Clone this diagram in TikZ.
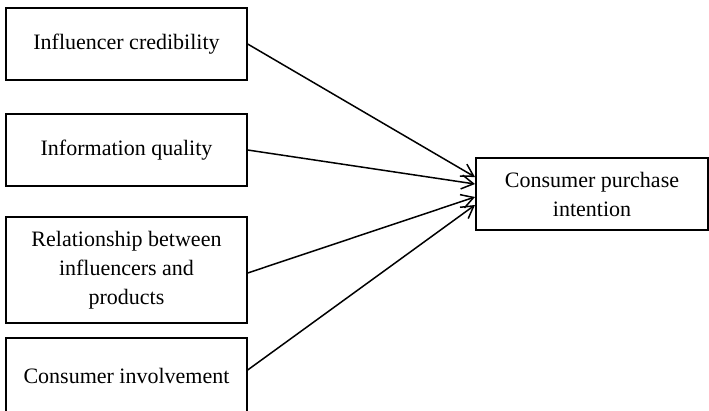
\documentclass[tikz,border=0pt]{standalone}
\usepackage{fontspec}
\setmainfont{Liberation Serif}
\usetikzlibrary{arrows.meta}
\begin{document}
\begin{tikzpicture}[x=1pt,y=-1pt,
  boxstyle/.style={draw, line width=1.3pt, inner sep=0pt, align=center,
    font=\fontsize{22}{29}\selectfont},
  linkstyle/.style={line width=1.5pt, -{Straight Barb[length=12pt,width=14pt,line width=1.5pt]}}]
\useasboundingbox (0,0) rectangle (709,410);
\begin{scope}
\clip (0,0) rectangle (709,410);
\node[boxstyle, minimum width=241pt, minimum height=72pt] (b1) at (126.5,44) {Influencer credibility};
\node[boxstyle, minimum width=241pt, minimum height=72pt] (b2) at (126.5,150) {Information quality};
\node[boxstyle, minimum width=241pt, minimum height=106pt] (b3) at (126.5,270) {Relationship between\\influencers and\\products};
\node[boxstyle, minimum width=241pt, minimum height=76pt] (b4) at (126.5,376) {Consumer involvement};
\node[boxstyle, minimum width=232pt, minimum height=72pt] (t) at (592,194) {Consumer purchase\\intention};
\end{scope}
\coordinate (e1) at (475,177);
\coordinate (e2) at (475,184);
\coordinate (e3) at (475,197);
\coordinate (e4) at (475,205);
\draw[linkstyle] (b1.east) -- (e1);
\draw[linkstyle] (b2.east) -- (e2);
\draw[linkstyle] ([yshift=-3pt]b3.east) -- (e3);
\draw[linkstyle] ([yshift=6pt]b4.east) -- (e4);
\end{tikzpicture}
\end{document}
